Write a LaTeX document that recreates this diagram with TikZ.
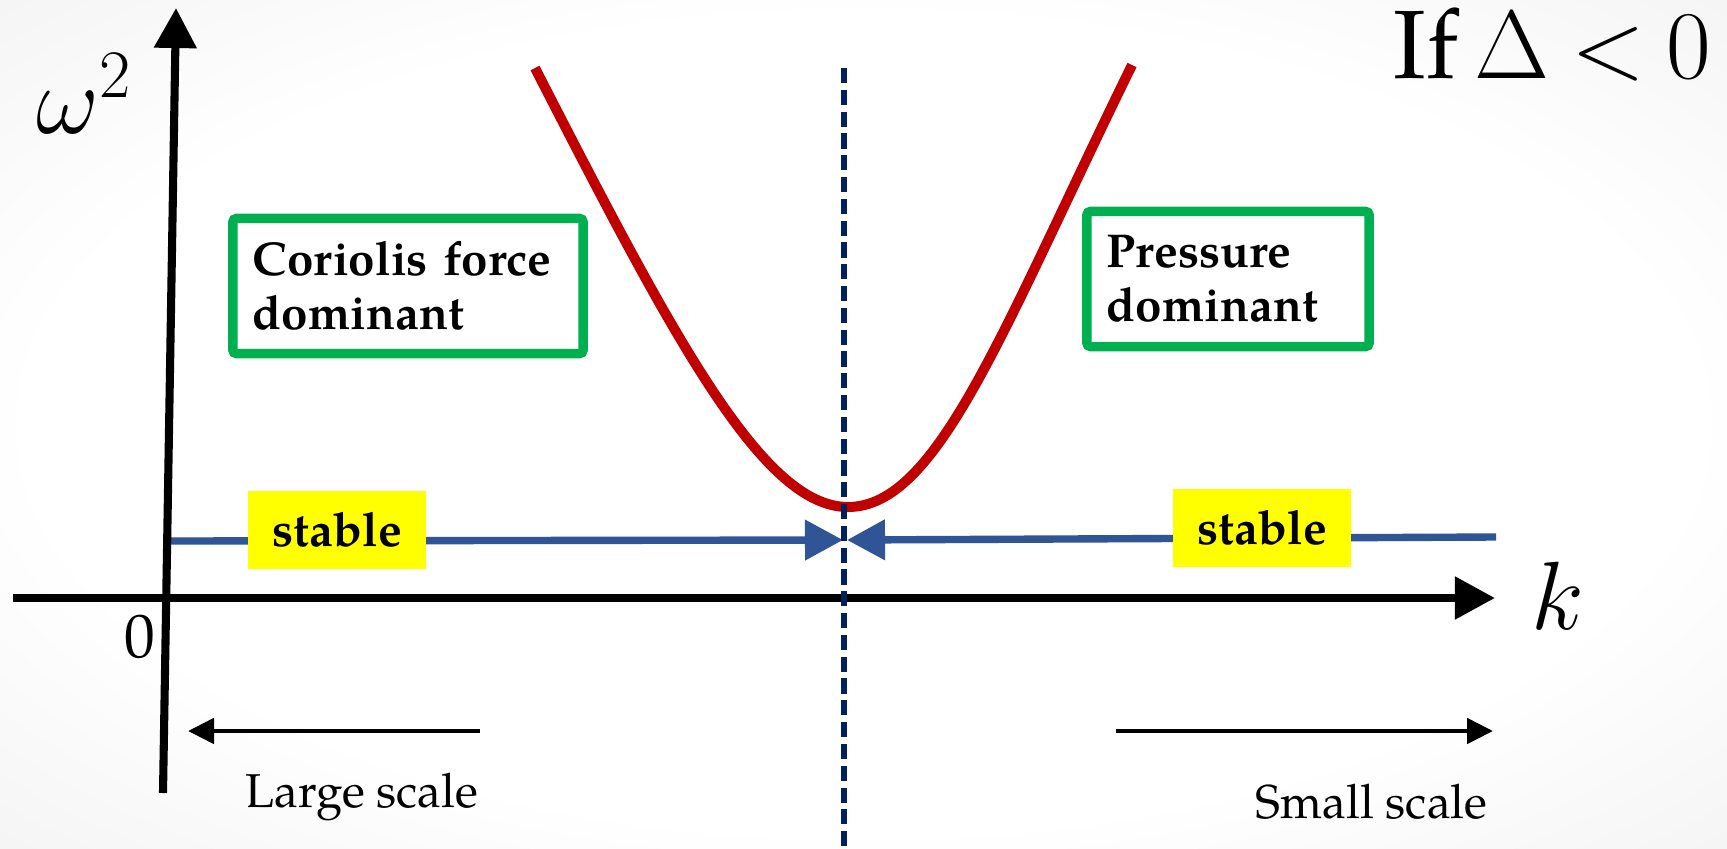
\RequirePackage{fix-cm}
\documentclass[tikz,border=0pt]{standalone}
\usepackage{fontspec}
\setmainfont{TeX Gyre Pagella}
\usepackage{amsmath}
\usetikzlibrary{arrows.meta}

\definecolor{curvered}{HTML}{C00000}
\definecolor{stableblue}{HTML}{2F5597}
\definecolor{boxgreen}{HTML}{00B050}
\definecolor{dashnavy}{HTML}{002060}
\definecolor{markyellow}{HTML}{FFFF00}

\pgfdeclareradialshading{slidebg}{\pgfpoint{0bp}{0bp}}{color(0bp)=(white); color(24bp)=(white); color(44bp)=(black!7); color(60bp)=(black!12); color(71bp)=(black!17); color(85bp)=(black!20)}

\tikzset{
  axis/.style={line width=2.3pt, -{Triangle[length=4mm, width=4.1mm]}},
  scalearrow/.style={line width=1.4pt, -{Triangle[length=2.6mm, width=2.5mm]}},
  stableline/.style={stableblue, line width=2.1pt, -{Triangle[length=3.8mm, width=3.9mm]}},
  regionbox/.style={draw=boxgreen, line width=2.7pt, rounded corners=1pt, fill=white,
    align=left, inner xsep=0.2cm, minimum height=1.35cm,
    font=\fontsize{13.5}{15.4}\selectfont\bfseries},
  stablebox/.style={fill=markyellow, minimum width=1.77cm, minimum height=0.77cm,
    font=\fontsize{13.5}{15}\selectfont\bfseries},
  bigmath/.style={inner sep=0, font=\fontsize{27.6}{30}\selectfont},
  scalelabel/.style={inner sep=0, anchor=base west, font=\fontsize{13.5}{15}\selectfont}
}

\begin{document}
\begin{tikzpicture}[x=0.01cm, y=-0.01cm]

  % Slide background
  \shade[shading=slidebg] (0,0) rectangle (1727,848);
  \useasboundingbox (0,0) rectangle (1727,848);

  % Points for the axes and lines
  \coordinate (xstart) at (13,598);
  \coordinate (xend) at (1495,598);
  \coordinate (ystart) at (163,793);
  \coordinate (yend) at (176,8);
  \coordinate (lstable) at (168,541);
  \coordinate (meetl) at (843,540);
  \coordinate (meetr) at (847,540);
  \coordinate (rstable) at (1496,537);
  \coordinate (dtop) at (844,68);
  \coordinate (dbot) at (844,848);

  % Stable line, arrows meeting at the minimum
  \draw[stableline] (lstable) -- (meetl);
  \draw[stableline] (rstable) -- (meetr);

  % Dispersion curve
  \draw[curvered, line width=2.85pt] (535,68) .. controls (675,341) and (763,507) .. (848,507)
    .. controls (938,507) and (1002,330) .. (1132,65);

  % Axes
  \draw[axis] (xstart) -- (xend);
  \draw[axis] (ystart) -- (yend);

  % Dashed line through the minimum
  \draw[dashnavy, line width=1.6pt, dash pattern=on 4.3pt off 1.9pt] (dtop) -- (dbot);

  % Boxes
  \node[stablebox] (stableL) at (337,530) {stable};
  \node[stablebox] (stableR) at (1262,528) {stable};
  \node[regionbox, text width=3.1cm] (coriolis) at (408,286) {Coriolis force\\dominant};
  \node[regionbox, text width=2.42cm] (pressure) at (1228,279) {Pressure\\dominant};

  % Axis labels
  \node[bigmath, anchor=base west] (omega) at (36,133) {$\omega^2$};
  \node[bigmath, anchor=base west] (kaxis) at (1531,629) {$k$};
  \node[bigmath, anchor=base west] (cond) at (1393,78) {If\,$\Delta\mskip4mu{<}\mskip4mu0$};
  \node[inner sep=0, font=\fontsize{17.5}{20}\selectfont] (zero) at (140,637) {0};

  % Scale arrows
  \coordinate (largeA) at (480,731);
  \coordinate (largeB) at (188,731);
  \coordinate (smallA) at (1116,731);
  \coordinate (smallB) at (1493,731);
  \draw[scalearrow] (largeA) -- (largeB);
  \draw[scalearrow] (smallA) -- (smallB);
  \node[scalelabel] (large) at (245,807) {Large scale};
  \node[scalelabel] (small) at (1255,818) {Small scale};

\end{tikzpicture}
\end{document}
